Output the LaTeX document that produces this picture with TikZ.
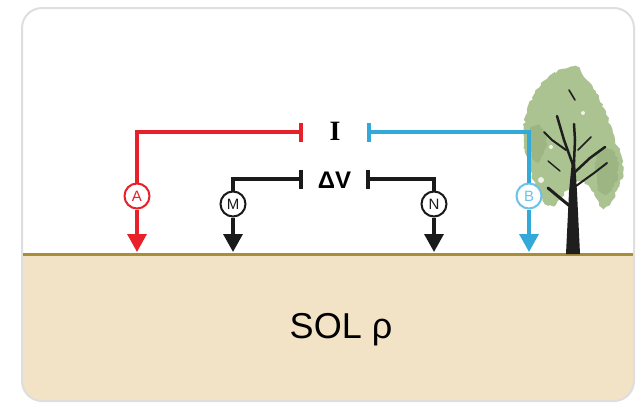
\documentclass[tikz,border=0pt]{standalone}
\usepackage{fontspec}
\setmainfont{Liberation Sans}
\newfontfamily\labelserif{Liberation Serif}
\usetikzlibrary{arrows.meta,decorations.pathmorphing}

\definecolor{frameline}{HTML}{DEDEDE}
\definecolor{soil}{HTML}{F2E3C6}
\definecolor{groundline}{HTML}{A88E38}
\definecolor{Ired}{HTML}{E8202A}
\definecolor{Iblue}{HTML}{33A9DA}
\definecolor{Bblue}{HTML}{6CC3E8}
\definecolor{wireblack}{HTML}{1A1A1A}
\definecolor{leaf}{HTML}{ABC291}
\definecolor{leafdark}{HTML}{9DB583}
\definecolor{bark}{HTML}{1E1E1E}

\tikzset{
  probe/.style={circle, draw, fill=white, line width=2pt, minimum size=25pt,
    inner sep=0pt, font=\fontsize{15}{15}\selectfont},
  wire/.style={line width=3.6pt},
  endbar/.style={{Bar[width=19pt]}-},
  drop/.style={line width=3.4pt, -{Triangle[width=19pt,length=18pt]}},
  branch/.style={bark, line cap=round},
  rough/.style={decorate, decoration={random steps, segment length=3pt, amplitude=1.4pt}},
}

\begin{document}
\begin{tikzpicture}[x=1pt, y=-1pt]
\useasboundingbox (0,0) rectangle (639,405);
\pgfmathsetseed{11}

% frame and soil
\fill[white] (22,8) [rounded corners=20pt] rectangle (634,401);
\begin{scope}
  \clip (22,8) [rounded corners=20pt] rectangle (634,401);
  \fill[soil] (0,254) rectangle (639,405);
\end{scope}
\draw[frameline, line width=2pt] (22,8) [rounded corners=20pt] rectangle (634,401);
\draw[groundline, line width=3pt] (23,254) -- (633,254);

% tree crown
\fill[leaf, rough] plot[smooth cycle, tension=0.6] coordinates {
  (562,69) (576,66) (586,79) (596,93) (604,108) (610,124) (615,140)
  (621,155) (623,172) (618,188) (611,202) (603,208) (596,198) (590,188)
  (580,182) (568,190) (556,204) (545,204) (538,190) (530,170) (525,150)
  (524,128) (527,110) (535,93) (547,79)};
\fill[leafdark, rough] plot[smooth cycle, tension=0.7] coordinates {
  (598,152) (612,150) (618,167) (614,186) (604,194) (597,180)};
\fill[leafdark, rough] plot[smooth cycle, tension=0.7] coordinates {
  (530,132) (540,126) (546,142) (540,160) (532,156)};
\fill[white, opacity=0.8] (541,180) circle (3pt) (551,147) circle (2pt) (583,113) circle (2pt);
% trunk and branches
\fill[bark] (566,254) -- (569,192) -- (572,160) -- (575,160) -- (577,192) -- (580,254) -- cycle;
\draw[branch, line width=3pt] (571,207) -- (560,198) -- (548,188);
\draw[branch, line width=2.5pt] (573,165) -- (564,140) -- (557,116);
\draw[branch, line width=2.5pt] (574,162) -- (575,140) -- (574,124);
\draw[branch, line width=2.5pt] (575,172) -- (590,158) -- (605,147);
\draw[branch, line width=2pt] (576,186) -- (594,173) -- (607,163);
\draw[branch, line width=2pt] (566,150) -- (552,140) -- (544,132);
\draw[branch, line width=1.6pt] (578,150) -- (591,137);
\draw[branch, line width=1.6pt] (569,90) -- (575,100);
\draw[branch, line width=1.4pt] (560,171) -- (548,161);

% current electrodes A and B
\coordinate (Ibarl) at (303,132);
\coordinate (Ibarr) at (367,132);
\node[font=\labelserif\bfseries\fontsize{28}{28}\selectfont] (I) at (335,131) {I};
\node[probe, draw=Ired, text=Ired] (A) at (137,196) {A};
\node[probe, draw=Bblue, text=Bblue] (B) at (529,196) {B};
\coordinate (gA) at (137,252);
\coordinate (gB) at (529,252);
\draw[wire, Ired, endbar] (Ibarl) -| (A);
\draw[wire, Iblue, endbar] (Ibarr) -| (B);
\draw[drop, Ired] (A) -- (gA);
\draw[drop, Iblue] (B) -- (gB);

% potential electrodes M and N
\coordinate (Vbarl) at (303,179);
\coordinate (Vbarr) at (366,179);
\node[font=\bfseries\fontsize{24}{24}\selectfont] (dV) at (334.5,180) {ΔV};
\node[probe, draw=wireblack, text=wireblack] (M) at (233,204) {M};
\node[probe, draw=wireblack, text=wireblack] (N) at (434,204) {N};
\coordinate (gM) at (233,252);
\coordinate (gN) at (434,252);
\draw[wire, wireblack, endbar] (Vbarl) -| (M);
\draw[wire, wireblack, endbar] (Vbarr) -| (N);
\draw[drop, wireblack] (M) -- (gM);
\draw[drop, wireblack] (N) -- (gN);

% soil label
\node[font=\fontsize{36}{36}\selectfont] (sol) at (341,330) {SOL ρ};
\end{tikzpicture}
\end{document}
